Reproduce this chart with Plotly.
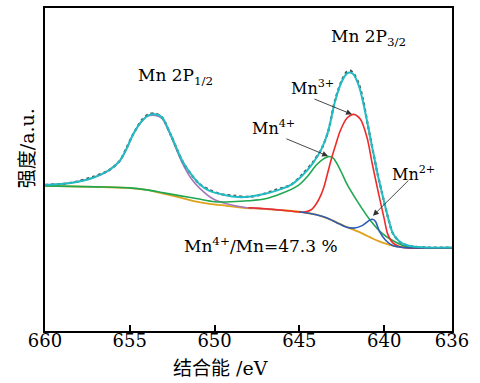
import plotly.graph_objects as go

# ---- data (binding energy in eV, intensity in arbitrary units) ----
env_x = [660, 658.5, 657.2, 656.3, 655.6, 655.2, 654.8, 654.3, 653.9, 653.5, 653.1, 652.6, 651.9, 651.4,
         650.9, 650.3, 649.7, 648.8, 648, 647.3, 646.4, 645.5, 644.8, 644.2, 643.7, 643.3, 642.9, 642.5,
         642.2, 642.0, 641.8, 641.5, 641.25, 640.95, 640.66, 640.4, 640.13, 639.8, 639.48, 639.1, 638.8,
         638.3, 637.5, 636]
env_y = [147, 149, 154, 161, 171, 183, 198, 211, 217, 218, 215, 198, 171, 158,
         148, 141, 138, 135, 135, 137, 141, 147, 157, 169, 183, 201, 231, 251,
         259, 260, 258, 247, 231, 206, 181, 159, 139, 116, 98, 90, 87,
         85, 84, 84]

raw_y = [147, 149, 155, 161, 171, 184, 198, 212, 218, 219, 215, 198, 171, 158,
         148, 142, 138, 136, 135, 137, 142, 147, 158, 170, 183, 201, 232, 252,
         261, 262, 259, 249, 233, 206, 181, 159, 139, 116, 98, 90, 87,
         85, 84, 84]

p12_x = [660, 658.5, 657.2, 656.3, 655.6, 655.2, 654.8, 654.3, 653.9, 653.5, 653.1, 652.6, 651.9, 651.4,
         650.9, 650.1, 649.3, 648.1, 647.0, 646.0]
p12_y = [147, 149, 154, 161, 171, 183, 198, 211, 216.5, 217, 214, 197, 169, 154,
         144, 133, 128, 124, 123, 121.5]

bg_x = [660, 657, 655.2, 654, 653.2, 652.2, 651.3, 650.3, 649.3, 648.3, 647.3, 646, 644.8, 644.0, 643.3,
        642.4, 641.4, 640.4, 639.5, 638.5, 637, 636]
bg_y = [146, 145, 144, 142, 139, 135, 131, 128, 126, 124, 123, 121.5, 119.5, 117, 113,
        106, 99, 91, 86, 84, 83.5, 83.5]

mn4_x = [660, 657, 655, 654, 653, 652, 651, 650, 649, 648, 647, 646.1, 645.1, 644.5, 644, 643.6, 643.3,
         643, 642.8, 642.5, 642.2, 641.6, 640.8, 640.1, 639.5, 638.9, 638.3, 636]
mn4_y = [146, 145, 144, 142, 139, 136, 133, 130, 130, 131, 133, 138, 146, 156, 167, 173, 175.5,
         174, 169, 159, 148, 131, 111, 98, 91, 86, 84, 83.5]

mn3_x = [648, 647, 646, 645.2, 644.8, 644.3, 644.0, 643.7, 643.5, 643.3, 643.1, 642.85, 642.6, 642.2,
         641.8, 641.4, 641.0, 640.7, 640.3, 640.0, 639.8, 639.5, 638.9, 637, 636]
mn3_y = [124, 123, 121.5, 120, 119.5, 122, 128, 138, 148, 161, 174, 188, 201, 214,
         218, 213, 194, 168, 136, 113, 98, 89, 84, 83.5, 83.5]

mn2_x = [645, 644, 643.4, 642.8, 642.3, 641.8, 641.3, 640.9, 640.7, 640.5, 640.3, 639.9, 639.5, 638.9,
         637, 636]
mn2_y = [120, 117, 114, 109, 105, 103.5, 106, 111, 112.5, 110, 101, 91, 86, 84,
         83.5, 83.5]

x_ticks = [660, 655, 650, 645, 640, 636]

SERIF = "DejaVu Serif"
CJK = "DejaVu Serif, Noto Sans CJK SC"

fig = go.Figure()
def add(x, y, color, w=1.6):
    fig.add_trace(go.Scatter(x=x, y=y, mode="lines", line=dict(color=color, width=w, shape="spline", smoothing=0.8),
                             hoverinfo="skip", showlegend=False))

add(bg_x, bg_y, "#e0a21c", 1.8)
add(p12_x, p12_y, "#a677b8", 1.6)
add(mn4_x, mn4_y, "#1fa84f", 1.6)
add(mn3_x, mn3_y, "#ee2b2b", 1.6)
add(mn2_x, mn2_y, "#2c5cb5", 1.6)
fig.add_trace(go.Scatter(x=env_x, y=raw_y, mode="lines",
                         line=dict(color="#505050", width=2.2, shape="spline", smoothing=0.8, dash="dot"),
                         hoverinfo="skip", showlegend=False))
add(env_x, env_y, "#22bcc4", 2.0)

ann = []
def text(t, x, y, size=17, xanchor="left"):
    ann.append(dict(text=t, x=x, y=y, xref="x", yref="y", showarrow=False, xanchor=xanchor, yanchor="middle",
                    font=dict(family=SERIF, size=size, color="black")))
def arrow(x0, y0, x1, y1):
    ann.append(dict(text="", x=x1, y=y1, ax=x0, ay=y0, xref="x", yref="y", axref="x", ayref="y",
                    showarrow=True, arrowhead=2, arrowsize=1.3, arrowwidth=0.9, arrowcolor="#333"))

text("Mn 2P<sub>1/2</sub>", 654.65, 256)
text("Mn 2P<sub>3/2</sub>", 643.25, 295)
text("Mn<sup>3+</sup>", 645.6, 245, 16)
text("Mn<sup>4+</sup>", 647.9, 205, 16)
text("Mn<sup>2+</sup>", 639.65, 158, 16)
text("Mn<sup>4+</sup>/Mn=47.3 %", 651.9, 87)
arrow(644.2, 234, 641.9, 218)
arrow(645.85, 194, 643.31, 176)
arrow(638.48, 153, 640.66, 116)

ann.append(dict(text="结合能 /eV", x=0.43, y=-0.114, xref="paper", yref="paper", showarrow=False,
                xanchor="center", yanchor="middle", font=dict(family=CJK, size=19, color="black")))
ann.append(dict(text="强度/a.u.", x=-0.045, y=0.565, xref="paper", yref="paper", showarrow=False, textangle=-90,
                xanchor="center", yanchor="middle", font=dict(family=CJK, size=19, color="black")))

fig.update_layout(
    width=480, height=383, margin=dict(l=45, r=28, t=6, b=52),
    paper_bgcolor="white", plot_bgcolor="white",
    annotations=ann,
    xaxis=dict(range=[660, 636], tickvals=x_ticks, ticktext=[str(v) for v in x_ticks],
               ticks="inside", ticklen=6, tickwidth=2, tickcolor="black", ticklabelstandoff=-8,
               showline=True, linewidth=2, linecolor="black", mirror=True, showgrid=False, zeroline=False,
               tickfont=dict(family=SERIF, size=18, color="black")),
    yaxis=dict(range=[0, 325], showticklabels=False, ticks="", showline=True, linewidth=2, linecolor="black",
               mirror=True, showgrid=False, zeroline=False),
)
fig.write_html("out.html")
